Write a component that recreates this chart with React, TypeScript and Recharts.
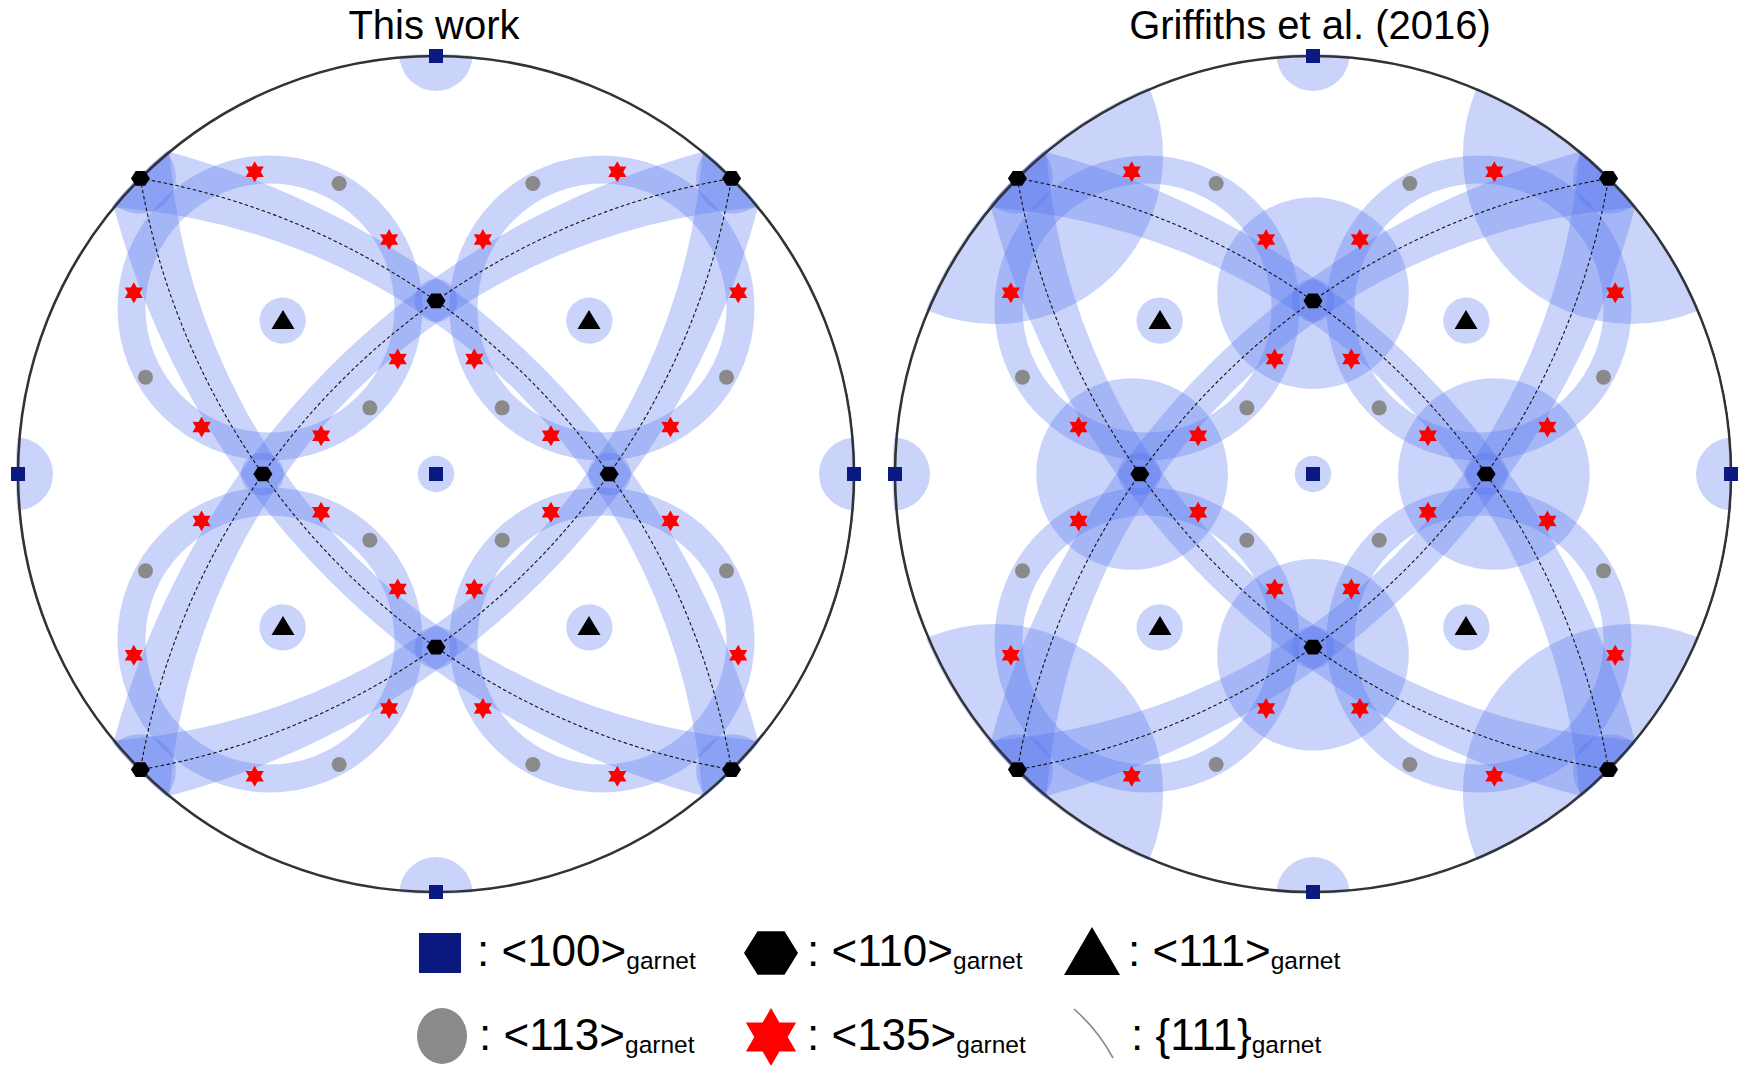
import { ScatterChart, Scatter, XAxis, YAxis } from 'recharts';

type Dir = [number, number, number];
type Circ = { x: number; y: number; r: number };

// ---- data: crystal directions of garnet, net viewed down [100] ----
const panelTitles = ['This work', 'Griffiths et al. (2016)'];

const dirs100: Dir[] = [[1, 0, 0], [0, 1, 0], [0, -1, 0], [0, 0, 1], [0, 0, -1]];
const dirs110: Dir[] = [
  [1, 1, 0], [1, -1, 0], [1, 0, 1], [1, 0, -1],
  [0, 1, 1], [0, 1, -1], [0, -1, 1], [0, -1, -1],
];
const dirs111: Dir[] = [[1, 1, 1], [1, 1, -1], [1, -1, 1], [1, -1, -1]];
const dirs113: Dir[] = [
  [3, 1, 1], [3, 1, -1], [3, -1, 1], [3, -1, -1],
  [1, 3, 1], [1, 3, -1], [1, -3, 1], [1, -3, -1],
  [1, 1, 3], [1, -1, 3], [1, 1, -3], [1, -1, -3],
];
const dirs135: Dir[] = [
  [1, 3, 5], [1, 3, -5], [1, -3, 5], [1, -3, -5], [1, 5, 3], [1, 5, -3], [1, -5, 3], [1, -5, -3],
  [3, 1, 5], [3, 1, -5], [3, -1, 5], [3, -1, -5], [3, 5, 1], [3, 5, -1], [3, -5, 1], [3, -5, -1],
  [5, 1, 3], [5, 1, -3], [5, -1, 3], [5, -1, -3], [5, 3, 1], [5, 3, -1], [5, -3, 1], [5, -3, -1],
];
const planes111: Dir[] = [[1, 1, 1], [1, 1, -1], [1, -1, 1], [1, -1, -1]];

// cone half-angles in degrees
const poleCone = 5;
const ring111 = 28.8;
const traceHalfWidth = 4.4;
const griffithsCone = 22;

// legend
const legendRow1 = ['<100>', '<110>', '<111>'];
const legendRow2 = ['<113>', '<135>', '{111}'];
const legendSub = 'garnet';

// ---- layout ----
const SIZE = 860;
const R_PX = 418;
const D = SIZE / 2 / R_PX;
const PANEL_TOP = 474 - SIZE / 2;
const PANEL_LEFT = [435.7 - SIZE / 2, 1312.5 - SIZE / 2];
const BLUE = '#5070f0';
const FONT = '"Liberation Sans", Arial, sans-serif';

function unit(d: Dir): Dir {
  const n = Math.hypot(d[0], d[1], d[2]);
  return [d[0] / n, d[1] / n, d[2] / n];
}

// stereographic projection, upper hemisphere (x >= 0)
function project(d: Dir) {
  let [x, y, z] = unit(d);
  if (x < 0) {
    x = -x; y = -y; z = -z;
  }
  return { x: y / (1 + x), y: z / (1 + x) };
}

// projected circle of all directions at angle deg from d
function smallCircle(d: Dir, deg: number): Circ {
  const [x, y, z] = unit(d);
  const th = Math.acos(Math.max(-1, Math.min(1, x)));
  const rho = Math.hypot(y, z);
  const ax = rho < 1e-9 ? 1 : y / rho;
  const ay = rho < 1e-9 ? 0 : z / rho;
  const a = (deg * Math.PI) / 180;
  const r1 = Math.tan((th - a) / 2);
  const r2 = Math.tan((th + a) / 2);
  const c = (r1 + r2) / 2;
  return { x: c * ax, y: c * ay, r: Math.abs(r2 - r1) / 2 };
}

const circles = (list: Dir[], deg: number) => list.map((d) => smallCircle(d, deg));
const points = (list: Dir[]) => list.map(project);

// band between two cones around the same pole (outer circle + offset of inner one)
const annuli = (list: Dir[], deg: number, half: number) =>
  list.map((d) => {
    const o = smallCircle(d, deg + half);
    const i = smallCircle(d, deg - half);
    return { x: o.x, y: o.y, r: o.r, dx: i.x - o.x, dy: i.y - o.y, r2: i.r };
  });

const discData = circles([...dirs100, ...dirs110, ...dirs111], poleCone);
const bigDiscData = circles(dirs110, griffithsCone);
const ringData = circles(dirs111, ring111);
const traceBandData = annuli(planes111, 90, traceHalfWidth);
const traceData = circles(planes111, 90);
const primitiveData = [smallCircle([1, 0, 0], 90)];

// ---- shapes ----
const circPath = (cx: number, cy: number, r: number) =>
  `M${cx - r},${cy} a${r},${r} 0 1,0 ${2 * r},0 a${r},${r} 0 1,0 ${-2 * r},0 Z`;

const discShape = (p: any) => (
  <circle cx={p.cx} cy={p.cy} r={p.payload.r * R_PX} fill={BLUE} fillOpacity={0.3} />
);
const bandShape = (w: number) => (p: any) => (
  <circle cx={p.cx} cy={p.cy} r={p.payload.r * R_PX} fill="none" stroke={BLUE} strokeOpacity={0.3} strokeWidth={w} />
);
const annulusShape = (p: any) => {
  const q = p.payload;
  const d =
    circPath(p.cx, p.cy, q.r * R_PX) +
    circPath(p.cx + q.dx * R_PX, p.cy - q.dy * R_PX, q.r2 * R_PX);
  return <path d={d} fill={BLUE} fillOpacity={0.3} fillRule="evenodd" />;
};
const traceShape = (p: any) => (
  <circle cx={p.cx} cy={p.cy} r={p.payload.r * R_PX} fill="none" stroke="#111" strokeWidth={1.1} strokeDasharray="3.5 2.5" />
);
const primitiveShape = (p: any) => (
  <circle cx={p.cx} cy={p.cy} r={p.payload.r * R_PX} fill="none" stroke="#333" strokeWidth={2.6} />
);

function hexPts(cx: number, cy: number, rx: number, ry: number) {
  return [0, 1, 2, 3, 4, 5]
    .map((i) => {
      const a = (i * Math.PI) / 3;
      return `${cx + rx * Math.cos(a)},${cy + ry * Math.sin(a)}`;
    })
    .join(' ');
}
function starPts(cx: number, cy: number, ro: number, ri: number) {
  const out: string[] = [];
  for (let i = 0; i < 12; i++) {
    const a = -Math.PI / 2 + (i * Math.PI) / 6;
    const r = i % 2 === 0 ? ro : ri;
    out.push(`${cx + r * Math.cos(a)},${cy + r * Math.sin(a)}`);
  }
  return out.join(' ');
}

const squareShape = (p: any) => <rect x={p.cx - 7} y={p.cy - 7} width={14} height={14} fill="#0a1a80" />;
const hexShape = (p: any) => <polygon points={hexPts(p.cx, p.cy, 9.5, 8.5)} fill="#000" />;
const triShape = (p: any) => (
  <polygon points={`${p.cx},${p.cy - 11} ${p.cx - 11.5},${p.cy + 8} ${p.cx + 11.5},${p.cy + 8}`} fill="#000" />
);
const dotShape = (p: any) => <circle cx={p.cx} cy={p.cy} r={7.5} fill="#8a8a8a" />;
const starShape = (p: any) => <polygon points={starPts(p.cx, p.cy, 10.5, 6)} fill="#ff0000" />;

const axes = [
  <XAxis key="x" type="number" dataKey="x" domain={[-D, D]} hide allowDataOverflow />,
  <YAxis key="y" type="number" dataKey="y" domain={[-D, D]} hide allowDataOverflow />,
];
const margin = { top: 0, right: 0, bottom: 0, left: 0 };

function Net({ left, griffiths }: { left: number; griffiths: boolean }) {
  return (
    <>
      <div
        style={{
          position: 'absolute',
          left,
          top: PANEL_TOP,
          width: SIZE,
          height: SIZE,
          clipPath: `circle(${R_PX + 2}px at ${SIZE / 2}px ${SIZE / 2}px)`,
        }}
      >
        <ScatterChart width={SIZE} height={SIZE} margin={margin}>
          {axes}
          <Scatter data={discData} shape={discShape} isAnimationActive={false} />
          {griffiths && <Scatter data={bigDiscData} shape={discShape} isAnimationActive={false} />}
          <Scatter data={ringData} shape={bandShape(28)} isAnimationActive={false} />
          <Scatter data={traceBandData} shape={annulusShape} isAnimationActive={false} />
          <Scatter data={traceData} shape={traceShape} isAnimationActive={false} />
          <Scatter data={primitiveData} shape={primitiveShape} isAnimationActive={false} />
        </ScatterChart>
      </div>
      <div style={{ position: 'absolute', left, top: PANEL_TOP, width: SIZE, height: SIZE }}>
        <ScatterChart width={SIZE} height={SIZE} margin={margin}>
          {axes}
          <Scatter data={points(dirs113)} shape={dotShape} isAnimationActive={false} />
          <Scatter data={points(dirs135)} shape={starShape} isAnimationActive={false} />
          <Scatter data={points(dirs111)} shape={triShape} isAnimationActive={false} />
          <Scatter data={points(dirs110)} shape={hexShape} isAnimationActive={false} />
          <Scatter data={points(dirs100)} shape={squareShape} isAnimationActive={false} />
        </ScatterChart>
      </div>
    </>
  );
}

function LegendText({ x, y, label }: { x: number; y: number; label: string }) {
  return (
    <text x={x} y={y} fontSize={44} fontFamily={FONT} fill="#000">
      {`: ${label}`}
      <tspan fontSize={24.5} dy={3}>
        {legendSub}
      </tspan>
    </text>
  );
}

export default function App() {
  return (
    <div style={{ position: 'absolute', left: 0, top: 0, width: 1747, height: 1065, background: '#fff' }}>
      <svg width={1747} height={1065} style={{ position: 'absolute', left: 0, top: 0 }}>
        <text x={434} y={39} textAnchor="middle" fontSize={40} fontFamily={FONT}>
          {panelTitles[0]}
        </text>
        <text x={1310} y={39} textAnchor="middle" fontSize={40} fontFamily={FONT}>
          {panelTitles[1]}
        </text>

        <rect x={419} y={933} width={42} height={40} fill="#0a1a80" />
        <LegendText x={477} y={966} label={legendRow1[0]} />
        <polygon points={hexPts(771, 953, 27, 25)} fill="#000" />
        <LegendText x={807} y={966} label={legendRow1[1]} />
        <polygon points="1092,927 1064,975 1120,975" fill="#000" />
        <LegendText x={1128} y={966} label={legendRow1[2]} />

        <ellipse cx={442} cy={1036} rx={25} ry={28} fill="#8a8a8a" />
        <LegendText x={479} y={1050} label={legendRow2[0]} />
        <polygon points={starPts(771, 1037, 29, 16.7)} fill="#ff0000" />
        <LegendText x={807} y={1050} label={legendRow2[1]} />
        <path d="M1074 1009 Q1098 1030 1113 1058" fill="none" stroke="#888" strokeWidth={1.6} />
        <LegendText x={1131} y={1050} label={legendRow2[2]} />
      </svg>
      <Net left={PANEL_LEFT[0]} griffiths={false} />
      <Net left={PANEL_LEFT[1]} griffiths={true} />
    </div>
  );
}
